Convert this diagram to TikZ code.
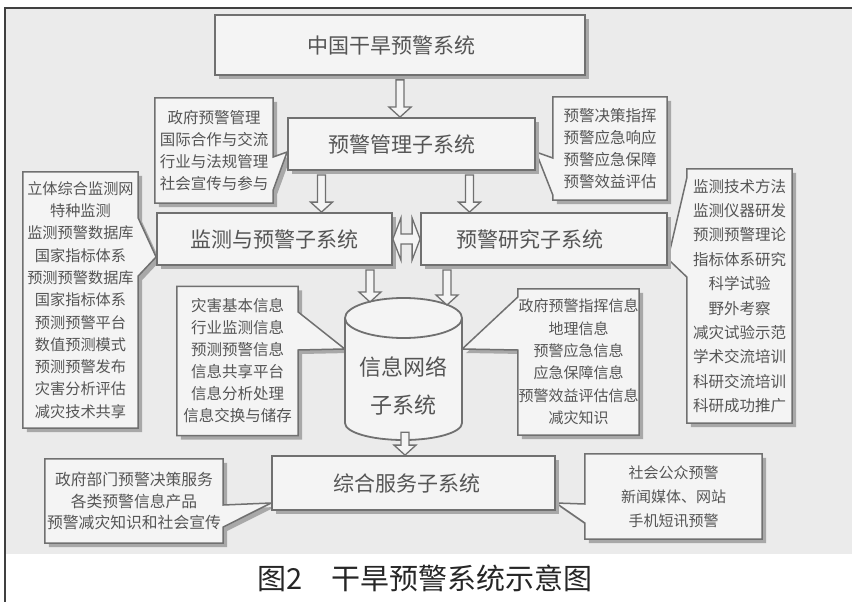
\documentclass[tikz,border=0pt]{standalone}
\usepackage{fontspec}
\newfontfamily\cjk{Noto Sans CJK SC}
\usetikzlibrary{calc,shadows}
\definecolor{linecol}{HTML}{707070}
\definecolor{textcol}{HTML}{555555}
\definecolor{shadcol}{HTML}{A8A8A8}
\definecolor{scanbg}{HTML}{EBEBEB}
\definecolor{boxfill}{HTML}{F4F4F4}
\pgfdeclarelayer{bglayer}
\pgfdeclarelayer{calllayer}
\pgfsetlayers{bglayer,calllayer,main}
\newcommand\vblock[2]{\draw[blockarr] let \p1=#1, \p2=#2 in
  (\x1-4pt,\y1) -- (\x1-4pt,\y2+10pt) -- (\x1-11pt,\y2+10pt) -- (\x1,\y2)
  -- (\x1+11pt,\y2+10pt) -- (\x1+4pt,\y2+10pt) -- (\x1+4pt,\y1) -- cycle;}
\newcommand\hblock[2]{\draw[blockarr] let \p1=#1, \p2=#2 in
  (\x1,\y1) -- (\x1+8pt,\y1+21pt) -- (\x1+8pt,\y1+5pt) -- (\x2-8pt,\y1+5pt)
  -- (\x2-8pt,\y1+21pt) -- (\x2,\y1) -- (\x2-8pt,\y1-21pt) -- (\x2-8pt,\y1-5pt)
  -- (\x1+8pt,\y1-5pt) -- (\x1+8pt,\y1-21pt) -- cycle;}
\begin{document}
\begin{tikzpicture}[x=1pt,y=-1pt,
  myshadow/.style={drop shadow={shadow xshift=4pt,shadow yshift=-4pt,fill=shadcol,opacity=1}},
  mainbox/.style={draw=linecol,line width=1.8pt,fill=boxfill,text=textcol,inner sep=0pt,
    font=\cjk\fontsize{21}{26}\selectfont,myshadow},
  calltext/.style={text=textcol,align=center,inner sep=0pt},
  callshape/.style={draw=linecol,line width=1.5pt,fill=boxfill,line join=miter,myshadow},
  blockarr/.style={draw=linecol,line width=1.3pt,fill=boxfill,line join=miter},
  cylline/.style={draw=linecol,line width=1.8pt}]
\useasboundingbox (0,0) rectangle (852,602);
\begin{pgfonlayer}{bglayer}
  \fill[white] (0,0) rectangle (852,602);
  \fill[scanbg] (6,9) rectangle (852,554);
  \draw[line width=2.5pt,black!75] (5,602) -- (5,8) -- (852,8);
\end{pgfonlayer}

% main boxes
\node[mainbox,minimum width=370pt,minimum height=60pt] (top) at (400,45) {\kern-18pt 中国干旱预警系统};
\node[mainbox,minimum width=247pt,minimum height=52pt] (mgmt) at (411.5,144) {\kern-20pt 预警管理子系统};
\node[mainbox,minimum width=235pt,minimum height=52pt] (monitor) at (274.5,239) {监测与预警子系统};
\node[mainbox,minimum width=246pt,minimum height=52pt] (research) at (544,239) {\kern-28pt 预警研究子系统};
\node[mainbox,minimum width=283pt,minimum height=54pt] (service) at (413.5,483) {\kern-14pt 综合服务子系统};

% cylinder
\node[inner sep=0pt,minimum width=117pt,minimum height=142pt] (info) at (403.5,369) {};
\fill[boxfill] (345,318) -- (345,423) arc[start angle=180,end angle=360,x radius=58.5pt,y radius=17pt]
  -- (462,318) arc[start angle=0,end angle=180,x radius=58.5pt,y radius=20pt] -- cycle;
\draw[cylline] (345,318) -- (345,423) arc[start angle=180,end angle=360,x radius=58.5pt,y radius=17pt] -- (462,318);
\draw[cylline] (403.5,318) ellipse [x radius=58.5pt,y radius=20pt];
\node[calltext,font=\cjk\fontsize{22}{38}\selectfont] (infotext) at (403.5,386) {信息网络\\子系统};

% callout texts
\node[calltext,font=\cjk\fontsize{15.5}{22}\selectfont,minimum width=118pt,minimum height=105pt] (cL1) at (214,150.5)
  {政府预警管理\\国际合作与交流\\行业与法规管理\\社会宣传与参与};
\node[calltext,font=\cjk\fontsize{15.5}{22}\selectfont,minimum width=114pt,minimum height=103pt] (cR1) at (610,148.5)
  {预警决策指挥\\预警应急响应\\预警应急保障\\预警效益评估};
\node[calltext,font=\cjk\fontsize{15.2}{22.3}\selectfont,minimum width=115pt,minimum height=256pt] (cL2) at (80.5,300)
  {立体综合监测网\\特种监测\\监测预警数据库\\国家指标体系\\预测预警数据库\\国家指标体系\\预测预警平台\\数值预测模式\\预测预警发布\\灾害分析评估\\减灾技术共享};
\node[calltext,font=\cjk\fontsize{15.5}{24.4}\selectfont,minimum width=105pt,minimum height=254pt] (cR2) at (739.5,296)
  {监测技术方法\\监测仪器研发\\预测预警理论\\指标体系研究\\科学试验\\野外考察\\减灾试验示范\\学术交流培训\\科研交流培训\\科研成功推广};
\node[calltext,font=\cjk\fontsize{15.5}{22}\selectfont,minimum width=121pt,minimum height=149pt] (cL3) at (237.5,361)
  {灾害基本信息\\行业监测信息\\预测预警信息\\信息共享平台\\信息分析处理\\信息交换与储存};
\node[calltext,font=\cjk\fontsize{15}{22.4}\selectfont,minimum width=121pt,minimum height=146pt] (cR3) at (578.5,362)
  {政府预警指挥信息\\地理信息\\预警应急信息\\应急保障信息\\预警效益评估信息\\减灾知识};
\node[calltext,font=\cjk\fontsize{15.8}{21.5}\selectfont,minimum width=178pt,minimum height=84pt] (cL4) at (134,501)
  {政府部门预警决策服务\\各类预警信息产品\\预警减灾知识和社会宣传};
\node[calltext,font=\cjk\fontsize{15}{24}\selectfont,minimum width=177pt,minimum height=85pt] (cR4) at (673.5,496.5)
  {社会公众预警\\新闻媒体、网站\\手机短讯预警};

% callout outlines
\begin{pgfonlayer}{calllayer}
  \draw[callshape] (cL1.north west) -- (cL1.north east) -- (cL1.north east |- 0,157) -- ($(mgmt.west)+(0,8)$)
    -- (cL1.north east |- 0,190) -- (cL1.south east) -- (cL1.south west) -- cycle;
  \draw[callshape] (cR1.north west) -- (cR1.north east) -- (cR1.south east) -- (cR1.south west)
    -- (cR1.north west |- 0,195) -- ($(mgmt.east)+(0,8)$) -- (cR1.north west |- 0,158) -- cycle;
  \draw[callshape] (cL2.north west) -- (cL2.north east) -- (cL2.north east |- 0,218) -- ($(monitor.west)+(0,18)$)
    -- (cL2.north east |- 0,276) -- (cL2.south east) -- (cL2.south west) -- cycle;
  \draw[callshape] (cR2.north west) -- (cR2.north east) -- (cR2.south east) -- (cR2.south west)
    -- (cR2.north west |- 0,277) -- ($(research.east)+(0,20)$) -- (cR2.north west |- 0,178) -- cycle;
  \draw[callshape] (cL3.north west) -- (cL3.north east) -- (cL3.north east |- 0,312) -- ($(info.west)+(0,-20)$)
    -- (cL3.north east |- 0,350) -- (cL3.south east) -- (cL3.south west) -- cycle;
  \draw[callshape] (cR3.north west) -- (cR3.north east) -- (cR3.south east) -- (cR3.south west)
    -- (cR3.north west |- 0,350) -- ($(info.east)+(0,-20)$) -- (cR3.north west |- 0,297) -- cycle;
  \draw[callshape] (cL4.north west) -- (cL4.north east) -- (cL4.north east |- 0,505) -- ($(service.west)+(0,20)$)
    -- (cL4.north east |- 0,527) -- (cL4.south east) -- (cL4.south west) -- cycle;
  \draw[callshape] (cR4.north west) -- (cR4.north east) -- (cR4.south east) -- (cR4.south west)
    -- (cR4.north west |- 0,523) -- ($(service.east)+(0,20)$) -- (cR4.north west |- 0,504) -- cycle;
\end{pgfonlayer}

% block arrows
\coordinate (a2s) at ($(mgmt.south)+(-90,4)$);
\coordinate (a3s) at ($(mgmt.south)+(58,4)$);
\coordinate (a4s) at ($(monitor.south)+(95.5,4)$);
\coordinate (a5s) at ($(research.south)+(-97,4)$);
\coordinate (cylL) at (370,302);
\coordinate (cylR) at (447,305);
\coordinate (a6s) at ($(info.south)+(1.5,-8)$);
\vblock{($(top.south)+(0,4)$)}{(top.south |- mgmt.north)}
\vblock{(a2s)}{(a2s |- monitor.north)}
\vblock{(a3s)}{(a3s |- research.north)}
\vblock{(a4s)}{(cylL)}
\vblock{(a5s)}{(cylR)}
\vblock{(a6s)}{(a6s |- service.north)}
\hblock{(monitor.east)}{(research.west)}

% caption
\node[font=\cjk\fontsize{29}{34}\selectfont,text=black!85,inner sep=0pt] (cap) at (425,578) {图2\hspace{1em}干旱预警系统示意图};
\end{tikzpicture}
\end{document}
